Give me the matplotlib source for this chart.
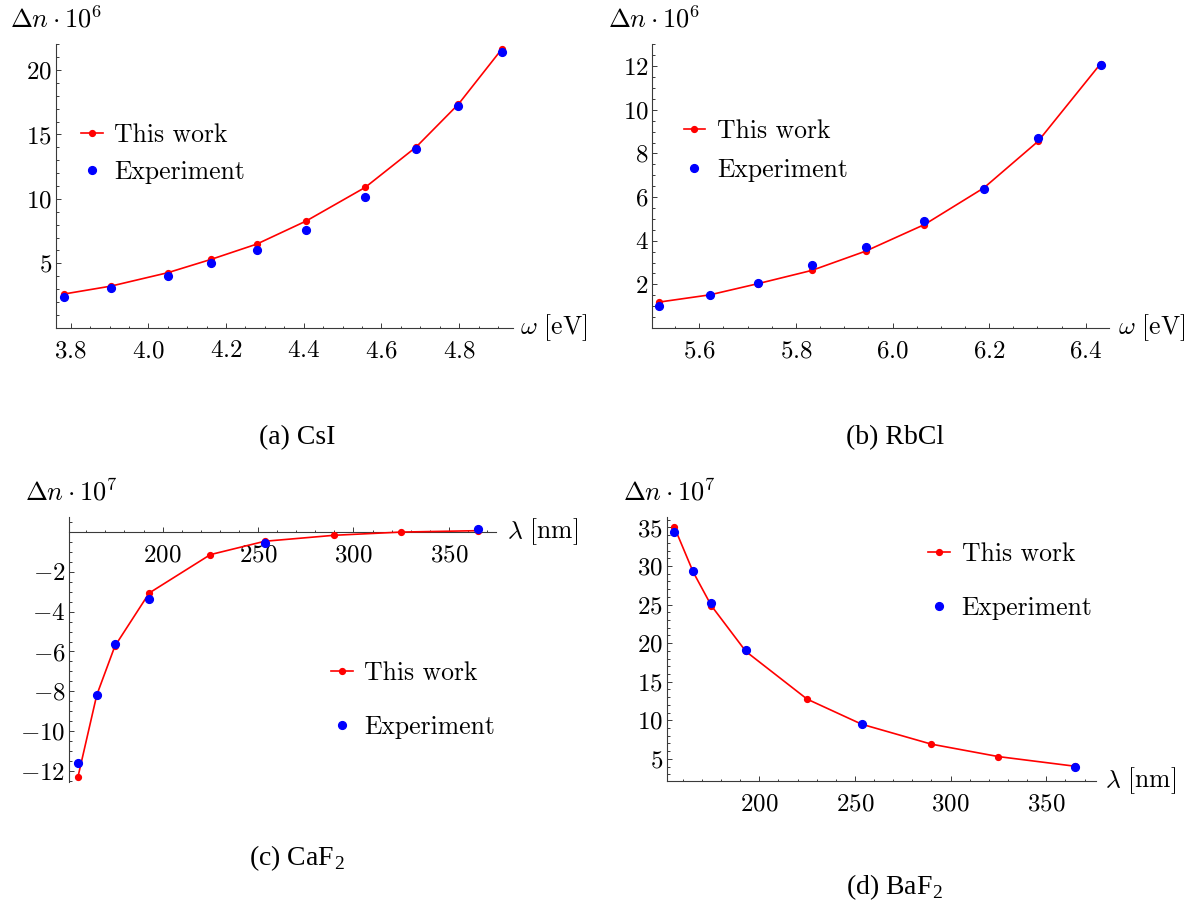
import matplotlib
matplotlib.use("Agg")
import matplotlib.pyplot as plt
from matplotlib.ticker import FixedLocator, FixedFormatter, MultipleLocator

plt.rcParams["font.family"] = "cmr10"
plt.rcParams["mathtext.fontset"] = "cm"
plt.rcParams["axes.formatter.use_mathtext"] = True

# (a) CsI
a_omega = [3.782, 3.904, 4.05, 4.161, 4.279, 4.406, 4.558, 4.689, 4.798, 4.909]
a_theory = [2.61, 3.23, 4.27, 5.30, 6.49, 8.28, 10.89, 14.02, 17.35, 21.6]
a_exp = [2.38, 3.05, 4.03, 5.02, 6.0, 7.60, 10.16, 13.89, 17.2, 21.39]
a_xticks = [3.8, 4.0, 4.2, 4.4, 4.6, 4.8]
a_yticks = [5, 10, 15, 20]

# (b) RbCl
b_omega = [5.5175, 5.622, 5.721, 5.833, 5.944, 6.066, 6.189, 6.301, 6.431]
b_theory = [1.19, 1.52, 2.03, 2.64, 3.52, 4.74, 6.42, 8.55, 12.12]
b_exp = [1.0, 1.51, 2.07, 2.88, 3.70, 4.89, 6.37, 8.69, 12.04]
b_xticks = [5.6, 5.8, 6.0, 6.2, 6.4]
b_yticks = [2, 4, 6, 8, 10, 12]

# (c) CaF2 and (d) BaF2, same wavelengths
lam = [155.6, 165.5, 175.0, 193.0, 225.0, 253.5, 290.0, 325.0, 365.0]
lam_exp = [155.6, 165.5, 175.0, 193.0, 253.5, 365.0]
c_theory = [-12.3, -8.18, -5.73, -3.07, -1.15, -0.48, -0.18, -0.02, 0.05]
c_exp = [-11.59, -8.18, -5.63, -3.39, -0.58, 0.13]
c_xticks = [200, 250, 300, 350]
c_yticks = [-12, -10, -8, -6, -4, -2]
d_theory = [35.05, 29.2, 24.84, 18.93, 12.75, 9.5, 6.91, 5.30, 4.05]
d_exp = [34.4, 29.3, 25.27, 19.18, 9.55, 4.01]
d_xticks = [200, 250, 300, 350]
d_yticks = [5, 10, 15, 20, 25, 30, 35]

W, H = 1195, 906
AXC = "#3a3a3a"

fig = plt.figure(figsize=(W / 100, H / 100), dpi=100)


def box(l, t, r, b):
    return [l / W, 1 - b / H, (r - l) / W, (b - t) / H]


def fpos(x, y):
    return (x / W, 1 - y / H)


def panel(rect, xlim, ylim, xticks, yticks, xfmt, xminor, yminor, zero_axis=False):
    ax = fig.add_axes(rect)
    ax.set_xlim(*xlim)
    ax.set_ylim(*ylim)
    for s in ("top", "right"):
        ax.spines[s].set_visible(False)
    for s in ("left", "bottom"):
        ax.spines[s].set_color(AXC)
        ax.spines[s].set_linewidth(0.8)
    if zero_axis:
        ax.spines["bottom"].set_position(("data", 0))
    ax.xaxis.set_major_locator(FixedLocator(xticks))
    ax.xaxis.set_major_formatter(FixedFormatter(["$" + xfmt.format(v) + "$" for v in xticks]))
    ax.yaxis.set_major_locator(FixedLocator(yticks))
    ax.yaxis.set_major_formatter(FixedFormatter(["$%g$" % v for v in yticks]))
    ax.xaxis.set_minor_locator(MultipleLocator(xminor))
    ax.yaxis.set_minor_locator(MultipleLocator(yminor))
    ax.tick_params(which="both", direction="in", color=AXC, width=0.7, labelsize=18)
    ax.tick_params(which="major", length=3.5)
    ax.tick_params(which="minor", length=1.8)
    ax.tick_params(axis="x", pad=9)
    ax.tick_params(axis="y", pad=2.5)
    ax.patch.set_alpha(0)
    return ax


def draw(ax, x, th, xe, ex):
    h1, = ax.plot(x, th, color="#ff0000", lw=1.2, marker="o", ms=4.2, label="This work", zorder=3)
    h2, = ax.plot(xe, ex, ls="none", color="#0000ff", marker="o", ms=5.6, label="Experiment", zorder=4)
    return [h1, h2]


def legend(handles, x, y, spacing):
    fig.legend(handles, ["This work", "Experiment"], loc="center left",
               bbox_to_anchor=fpos(x, y), bbox_transform=fig.transFigure,
               frameon=False, fontsize=18.5, handlelength=0.85, handletextpad=0.45,
               labelspacing=spacing, borderpad=0, borderaxespad=0, numpoints=1)


# panel (a)
axa = panel(box(55.5, 44.3, 512.8, 327.7), (3.761, 4.938), (0, 22), a_xticks, a_yticks,
            "{:.1f}", 0.05, 1)
ha = draw(axa, a_omega, a_theory, a_omega, a_exp)
legend(ha, 81, 153.4, 0.5)
fig.text(*fpos(9.6, 27), r"$\Delta n \cdot 10^6$", fontsize=19, va="baseline", ha="left")
fig.text(*fpos(520, 328), r"$\omega\ [\mathrm{eV}]$", fontsize=18.5, va="center", ha="left")

# panel (b)
axb = panel(box(652, 44.3, 1108.5, 328), (5.502, 6.447), (0, 13), b_xticks, b_yticks,
            "{:.1f}", 0.05, 0.5)
hb = draw(axb, b_omega, b_theory, b_omega, b_exp)
legend(hb, 683.5, 150.8, 0.58)
fig.text(*fpos(607.6, 27), r"$\Delta n \cdot 10^6$", fontsize=19, va="baseline", ha="left")
fig.text(*fpos(1118, 328), r"$\omega\ [\mathrm{eV}]$", fontsize=18.5, va="center", ha="left")

# panel (c)
axc = panel(box(68.9, 516.7, 496.4, 781.7), (150.9, 374.9), (-12.52, 0.75), c_xticks, c_yticks,
            "{:g}", 10, 0.5, zero_axis=True)
hc = draw(axc, lam, c_theory, lam_exp, c_exp)
legend(hc, 331, 700, 1.2)
fig.text(*fpos(25, 500.7), r"$\Delta n \cdot 10^7$", fontsize=19, va="baseline", ha="left")
fig.text(*fpos(507, 532), r"$\lambda\ [\mathrm{nm}]$", fontsize=18.5, va="center", ha="left")

# panel (d)
axd = panel(box(666.5, 516.7, 1095.6, 780.5), (151.5, 375.8), (2.2, 36.4), d_xticks, d_yticks,
            "{:g}", 10, 1)
hd = draw(axd, lam, d_theory, lam_exp, d_exp)
legend(hd, 928.3, 581, 1.2)
fig.text(*fpos(622.8, 500.7), r"$\Delta n \cdot 10^7$", fontsize=19, va="baseline", ha="left")
fig.text(*fpos(1104.7, 781), r"$\lambda\ [\mathrm{nm}]$", fontsize=18.5, va="center", ha="left")

# captions
cap = dict(family="Liberation Serif", fontsize=20, ha="left", va="baseline")
fig.text(*fpos(259, 444), "(a) CsI", **cap)
fig.text(*fpos(845.5, 444), "(b) RbCl", **cap)
fig.text(*fpos(249, 865), r"(c) CaF$_\mathregular{2}$", **cap)
fig.text(*fpos(845.5, 894), r"(d) BaF$_\mathregular{2}$", **cap)

fig.savefig("out.png", dpi=100)
